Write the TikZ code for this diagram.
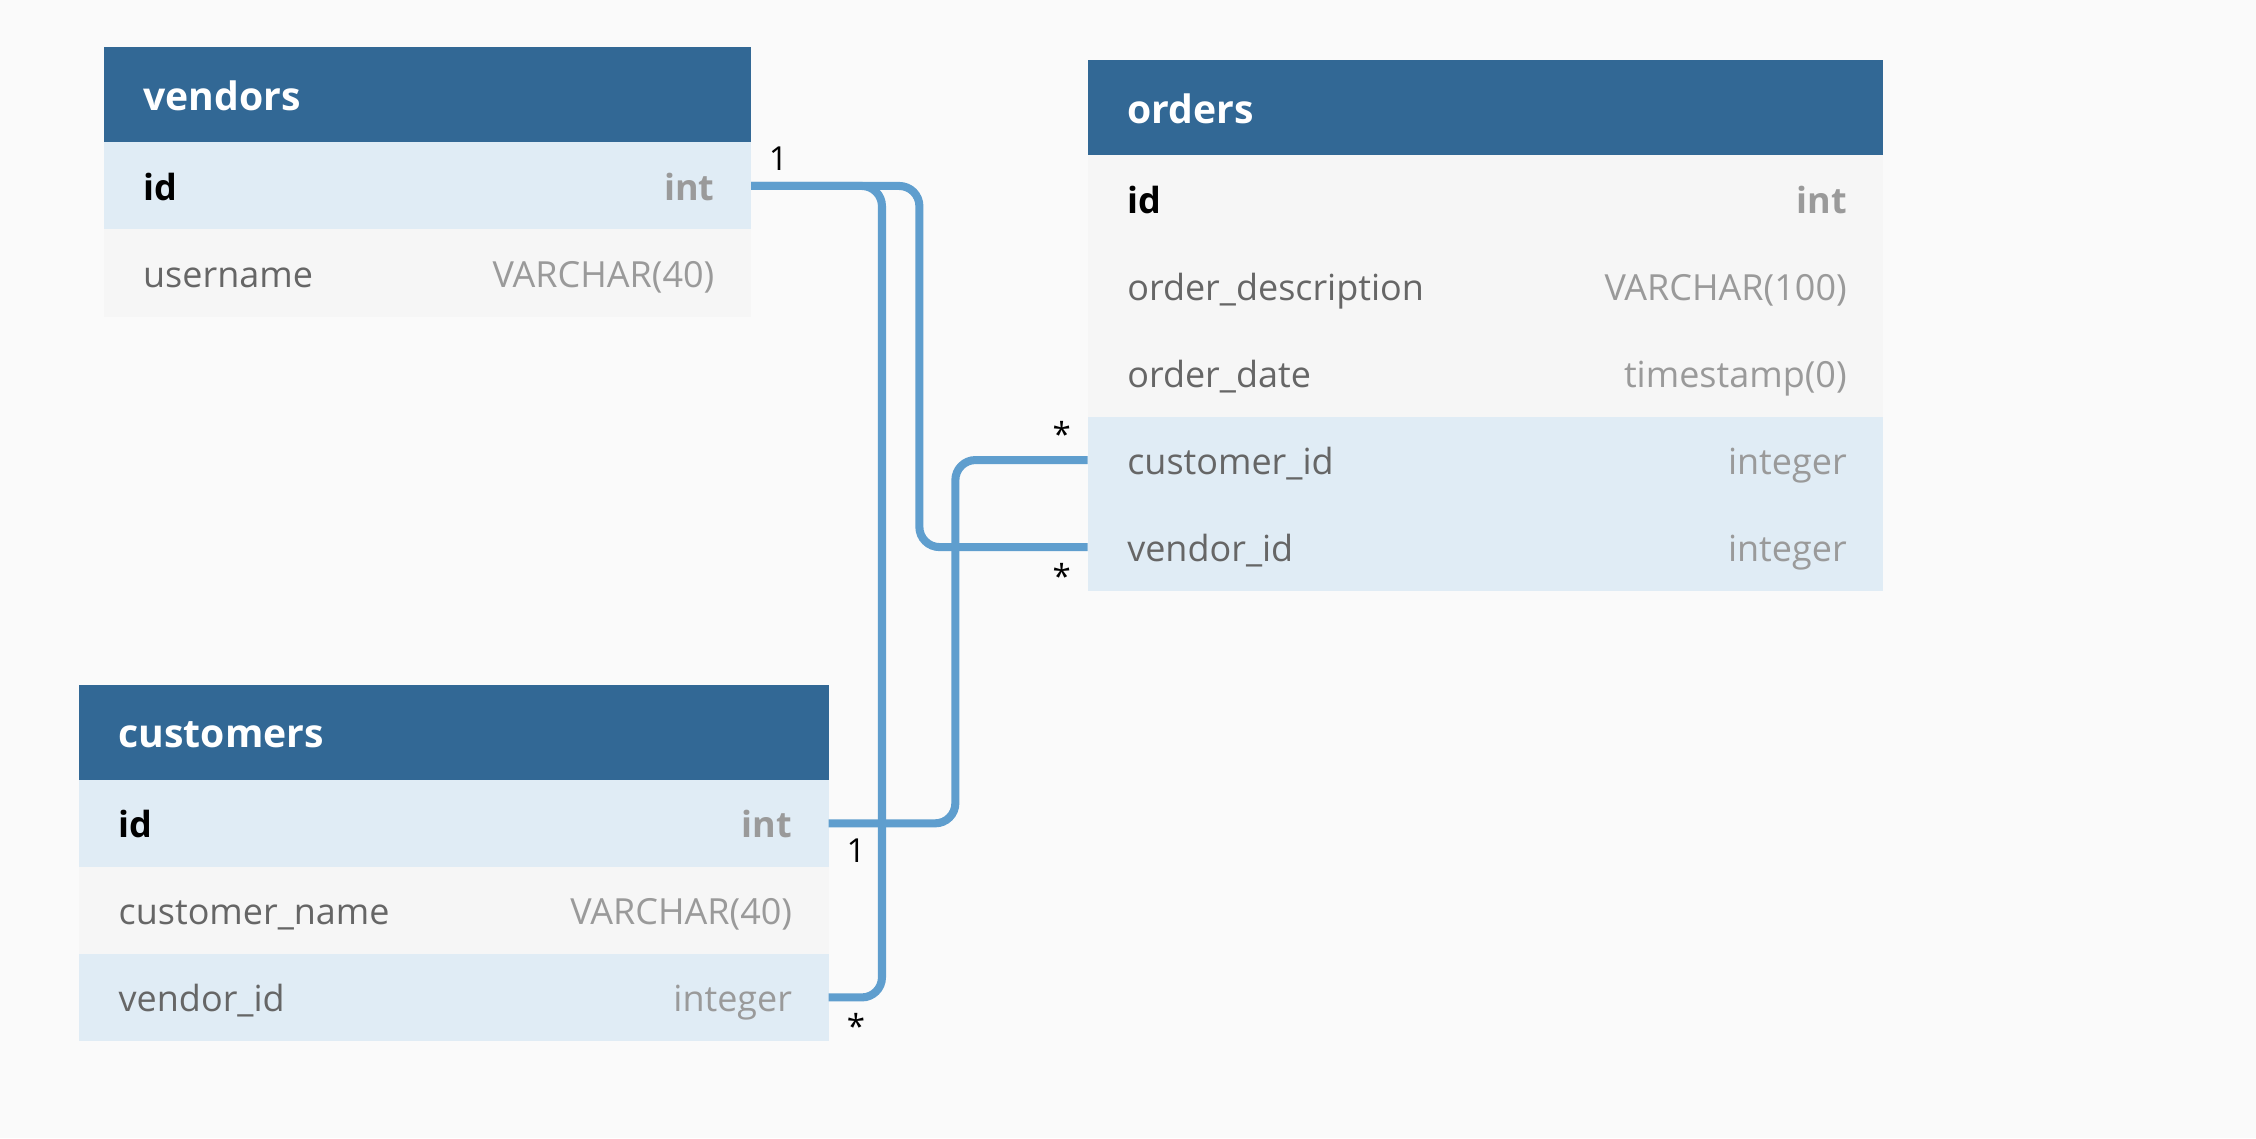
\documentclass[tikz,border=0pt]{standalone}
\usepackage{fontspec}
\setmainfont{Open Sans}
\usepackage{xcolor}
\usetikzlibrary{positioning}
\definecolor{pagebg}{HTML}{FAFAFA}
\definecolor{headblue}{HTML}{326895}
\definecolor{linkrow}{HTML}{E0ECF5}
\definecolor{plainrow}{HTML}{F6F6F6}
\definecolor{linkblue}{HTML}{5F9ECE}
\definecolor{namegray}{HTML}{666666}
\definecolor{typegray}{HTML}{9A9A9A}
\newcommand{\rowstrut}{\rule[-3pt]{0pt}{16pt}}
\newcommand{\headstrut}{\rule[-3.2pt]{0pt}{17.2pt}}
\newcommand{\fld}[2]{\rowstrut\hspace*{1pt}\textcolor{namegray}{#1}\hfill\textcolor{typegray}{#2}}
\newcommand{\pkey}[2]{\rowstrut\hspace*{1pt}\textbf{#1}\hfill\textcolor{typegray}{\textbf{#2}}}
\tikzset{
tablehead/.style = {rectangle, fill=headblue, text=white, anchor=north west,
              font=\fontsize{13.6}{17}\selectfont\bfseries,
              minimum height=33pt, inner xsep=12.75pt, inner ysep=0pt,
              outer sep=0pt, text width=#1},
row/.style = {rectangle, fill=plainrow, font=\fontsize{12.5}{15}\selectfont,
              minimum height=30.25pt, inner xsep=12.75pt, inner ysep=0pt,
              outer sep=0pt, text width=#1},
keyrow/.style = {row=#1, fill=linkrow}
}
\tikzset{
link/.style = {draw=linkblue, line width=2.8pt, rounded corners=7pt},
card/.style = {font=\fontsize{11.5}{13}\selectfont, inner sep=0pt}
}

\begin{document}
\begin{tikzpicture}[x=0.5pt, y=-0.5pt]
    \fill[pagebg] (0,0) rectangle (1568,791);
    \useasboundingbox (0,0) rectangle (1568,791);

    % vendors
    \node[tablehead=199.5pt] (vendorsHead) at (72,33) {\headstrut\hspace*{1pt}vendors};
    \node[keyrow=199.5pt, below=0pt of vendorsHead] (vendors-id) {\pkey{id}{int}};
    \node[row=199.5pt, below=0pt of vendors-id] (vendors-name) {\fld{username}{VARCHAR(40)}};

    % orders
    \node[tablehead=251pt] (ordersHead) at (756,42) {\headstrut\hspace*{1pt}orders};
    \node[row=251pt, below=0pt of ordersHead] (orders-id) {\pkey{id}{int}};
    \node[row=251pt, below=0pt of orders-id] (orders-desc) {\fld{order\_description}{VARCHAR(100)}};
    \node[row=251pt, below=0pt of orders-desc] (orders-date) {\fld{order\_date}{timestamp(0)}};
    \node[keyrow=251pt, below=0pt of orders-date] (orders-cid) {\fld{customer\_id}{integer}};
    \node[keyrow=251pt, below=0pt of orders-cid] (orders-vid) {\fld{vendor\_id}{integer}};

    % customers
    \node[tablehead=235pt] (customersHead) at (55,476) {\headstrut\hspace*{1pt}customers};
    \node[keyrow=235pt, below=0pt of customersHead] (customers-id) {\pkey{id}{int}};
    \node[row=235pt, below=0pt of customers-id] (customers-name) {\fld{customer\_name}{VARCHAR(40)}};
    \node[keyrow=235pt, below=0pt of customers-name] (customers-vid) {\fld{vendor\_id}{integer}};

    % connectors
    \coordinate (jogA) at (613,400);
    \coordinate (jogB) at (639,250);
    \coordinate (jogC) at (664,450);
    \draw[link] (vendors-id.east) -| (jogA) |- (customers-vid.east);
    \draw[link] (vendors-id.east) -| (jogB) |- (orders-vid.west);
    \draw[link] (customers-id.east) -| (jogC) |- (orders-cid.west);

    \node[card] (cardVendor) at ([xshift=9.5pt, yshift=9.5pt]vendors-id.east) {1};
    \node[card] (cardOrdCust) at ([xshift=-9pt, yshift=9pt]orders-cid.west) {*};
    \node[card] (cardOrdVend) at ([xshift=-9pt, yshift=-10pt]orders-vid.west) {*};
    \node[card] (cardCustomer) at ([xshift=9.5pt, yshift=-9.5pt]customers-id.east) {1};
    \node[card] (cardCustVend) at ([xshift=9.5pt, yshift=-10pt]customers-vid.east) {*};
\end{tikzpicture}
\end{document}
